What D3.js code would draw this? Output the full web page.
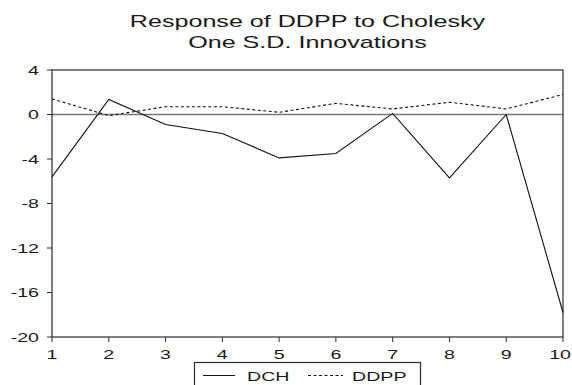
<!DOCTYPE html>
<html>
<head>
<meta charset="utf-8">
<script src="https://cdn.jsdelivr.net/npm/d3@7"></script>
<style>
  body { margin: 0; background: #fff; }
  text { font-family: "Liberation Sans", Arial, sans-serif; fill: #1a1a1a; }
</style>
</head>
<body>
<svg id="chart" width="572" height="385"></svg>
<script>
// data
var periods = [1, 2, 3, 4, 5, 6, 7, 8, 9, 10];
var dch  = [-5.6, 1.35, -0.9, -1.7, -3.9, -3.5, 0.1, -5.7, 0.0, -17.8];
var ddpp = [1.4, -0.1, 0.7, 0.7, 0.2, 1.0, 0.5, 1.1, 0.5, 1.8];
var yTicks = [4, 0, -4, -8, -12, -16, -20];
var titleLines = ["Response of DDPP to Cholesky", "One S.D. Innovations"];
var seriesNames = ["DCH", "DDPP"];

// the original graph is stretched sideways, so text is too
var SX = 1.57;
var LEFT = 52, RIGHT = 563, TOP = 70, BOTTOM = 337;
var WIDTH = 572;

var svg = d3.select("#chart");

var xScale = d3.scaleLinear().domain([1, 10]).range([LEFT, RIGHT]);
var yScale = d3.scaleLinear().domain([-20, 4]).range([BOTTOM, TOP]);

function stretchedText(x, y, str, size, anchor) {
    return svg.append("text")
        .attr("transform", "translate(" + x + "," + y + ") scale(" + SX + ",1)")
        .attr("text-anchor", anchor)
        .style("font-size", size + "px")
        .text(str);
}

// Title
stretchedText((LEFT + RIGHT) / 2, 26.5, titleLines[0], 16, "middle");
stretchedText((LEFT + RIGHT) / 2, 47.5, titleLines[1], 16, "middle");

// Zero line
svg.append("line")
    .attr("x1", LEFT).attr("x2", RIGHT)
    .attr("y1", yScale(0)).attr("y2", yScale(0))
    .attr("stroke", "#7a7a7a")
    .attr("stroke-width", 1.6);

// Frame
svg.append("rect")
    .attr("x", LEFT).attr("y", TOP)
    .attr("width", RIGHT - LEFT).attr("height", BOTTOM - TOP)
    .attr("fill", "none")
    .attr("stroke", "#2a2a2a")
    .attr("stroke-width", 1.2);

// Y ticks + labels
for (var t = 0; t < yTicks.length; t++) {
    var yc = yScale(yTicks[t]);
    svg.append("line")
        .attr("x1", LEFT - 5).attr("x2", LEFT)
        .attr("y1", yc).attr("y2", yc)
        .attr("stroke", "#2a2a2a");
    stretchedText(LEFT - 13, yc + 4.5, yTicks[t], 12.5, "end");
}

// X ticks + labels (last label kept inside the picture)
for (var p = 0; p < periods.length; p++) {
    var xc = xScale(periods[p]);
    svg.append("line")
        .attr("x1", xc).attr("x2", xc)
        .attr("y1", BOTTOM).attr("y2", BOTTOM + 5)
        .attr("stroke", "#2a2a2a");
    var lbl = stretchedText(xc, 359, periods[p], 12.5, "middle");
    var half = lbl.node().getBBox().width * SX / 2;
    if (xc + half > WIDTH - 1) {
        lbl.attr("transform", "translate(" + (WIDTH - 1 - half) + ",359) scale(" + SX + ",1)");
    }
}

// Series lines
var lineGenerator = d3.line()
    .x((d, i) => xScale(periods[i]))
    .y(d => yScale(d));

svg.append("path")
    .attr("class", "dch-line")
    .attr("d", lineGenerator(dch))
    .attr("fill", "none")
    .attr("stroke", "#111")
    .attr("stroke-width", 1.1);

svg.append("path")
    .attr("class", "ddpp-line")
    .attr("d", lineGenerator(ddpp))
    .attr("fill", "none")
    .attr("stroke", "#111")
    .attr("stroke-width", 1.1)
    .attr("stroke-dasharray", "3,2.5");

// Legend
svg.append("rect")
    .attr("x", 194.5).attr("y", 362.5)
    .attr("width", 226).attr("height", 30)
    .attr("fill", "#fff")
    .attr("stroke", "#2a2a2a")
    .attr("stroke-width", 1.2);

svg.append("line")
    .attr("x1", 203).attr("x2", 235)
    .attr("y1", 375.5).attr("y2", 375.5)
    .attr("stroke", "#111");
stretchedText(247, 381, seriesNames[0], 12.5, "start");

svg.append("line")
    .attr("x1", 308).attr("x2", 343)
    .attr("y1", 375.5).attr("y2", 375.5)
    .attr("stroke", "#111")
    .attr("stroke-dasharray", "3,2.5");
stretchedText(352, 381, seriesNames[1], 12.5, "start");
</script>
</body>
</html>
